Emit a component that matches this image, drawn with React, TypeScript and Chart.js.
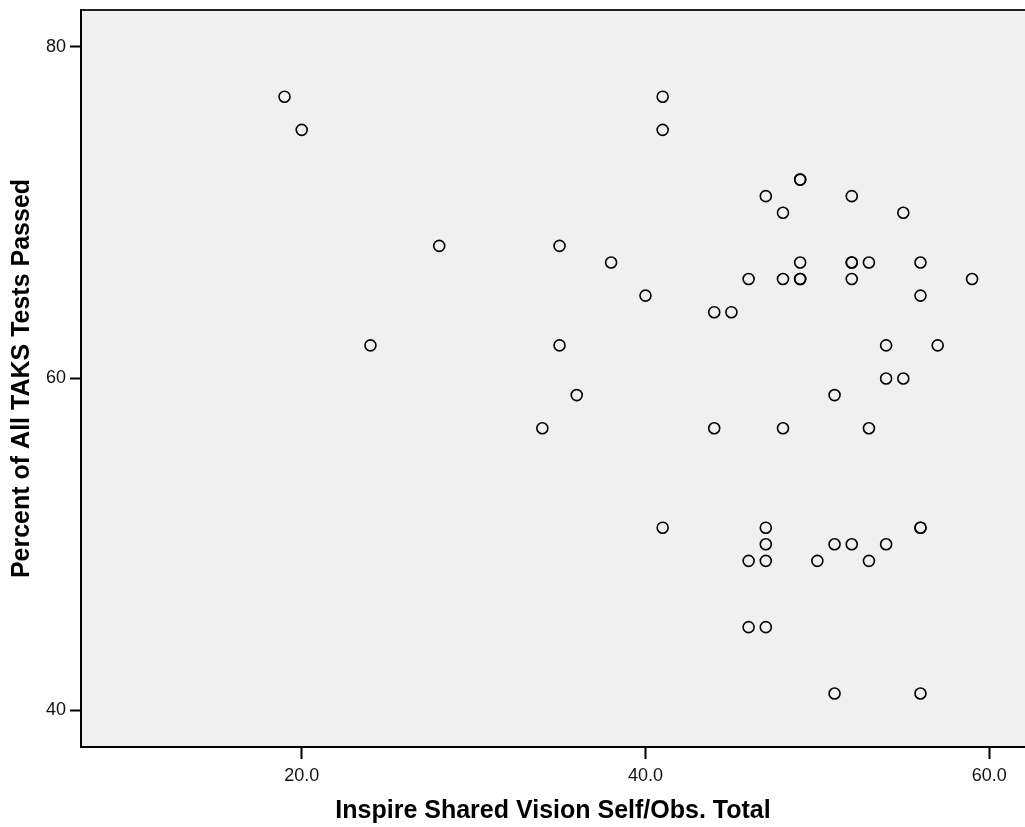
import React, { useEffect, useRef } from "react";
import { Chart, registerables } from "chart.js";

Chart.register(...registerables);

const xValues: number[] = [
  19, 20, 24, 28, 34, 35, 35, 36, 38, 40,
  41, 41, 41, 44, 45, 44, 46, 46, 46, 47,
  47, 47, 47, 47, 48, 48, 48, 49, 49, 49,
  49, 49, 50, 51, 51, 51, 52, 52, 52, 52,
  52, 53, 53, 53, 54, 54, 54, 55, 55, 56,
  56, 56, 56, 56, 57, 59,
];
const yValues: number[] = [
  77, 75, 62, 68, 57, 68, 62, 59, 67, 65,
  77, 75, 51, 64, 64, 57, 66, 49, 45, 71,
  51, 50, 49, 45, 70, 66, 57, 72, 72, 67,
  66, 66, 49, 59, 50, 41, 71, 67, 67, 66,
  50, 67, 57, 49, 62, 60, 50, 70, 60, 67,
  65, 51, 51, 41, 62, 66,
];
const xTickValues: number[] = [20, 40, 60];
const yTickValues: number[] = [40, 60, 80];
const xTitle = "Inspire Shared Vision Self/Obs. Total";
const yTitle = "Percent of All TAKS Tests Passed";

const FONT = '"Liberation Sans", Arial, Helvetica, sans-serif';

const framePlugin = {
  id: "spssFrame",
  beforeDraw(chart: any) {
    const { ctx, chartArea } = chart;
    ctx.save();
    ctx.fillStyle = "#F0F0F0";
    ctx.fillRect(chartArea.left, chartArea.top, chartArea.right - chartArea.left, chartArea.bottom - chartArea.top);
    ctx.restore();
  },
  afterDraw(chart: any) {
    const { ctx, chartArea } = chart;
    ctx.save();
    ctx.strokeStyle = "#222";
    ctx.lineWidth = 2;
    ctx.beginPath();
    ctx.moveTo(chartArea.left, chartArea.top);
    ctx.lineTo(chartArea.right, chartArea.top);
    ctx.stroke();
    ctx.restore();
  },
};

export default function App() {
  const canvasRef = useRef<HTMLCanvasElement | null>(null);

  useEffect(() => {
    if (!canvasRef.current) return;
    const points = xValues.map((x, i) => ({ x, y: yValues[i] }));
    const chart = new Chart(canvasRef.current, {
      type: "scatter",
      data: {
        datasets: [
          {
            data: points,
            pointRadius: 5.5,
            pointBorderWidth: 1.6,
            pointBorderColor: "#000",
            pointBackgroundColor: "rgba(0,0,0,0)",
            pointHoverRadius: 5.5,
          },
        ],
      },
      options: {
        responsive: false,
        animation: false,
        events: [],
        layout: { autoPadding: false, padding: { top: 10, left: 0, right: 0, bottom: 0 } },
        plugins: {
          legend: { display: false },
          tooltip: { enabled: false },
          title: { display: false },
        },
        scales: {
          x: {
            type: "linear",
            min: 7.16,
            max: 62.08,
            afterBuildTicks: (scale: any) => {
              scale.ticks = xTickValues.map((v) => ({ value: v }));
            },
            afterFit: (scale: any) => {
              scale.height = 80;
              scale.paddingLeft = 0;
              scale.paddingRight = 0;
            },
            ticks: {
              autoSkip: false,
              maxRotation: 0,
              padding: 6,
              color: "#111",
              font: { family: FONT, size: 18 },
              callback: (v: any) => Number(v).toFixed(1),
            },
            grid: {
              display: true,
              drawOnChartArea: false,
              drawTicks: true,
              tickLength: 12,
              tickWidth: 2,
              tickColor: "#000",
            },
            border: { display: true, color: "#000", width: 2 },
            title: {
              display: true,
              text: xTitle,
              color: "#000",
              font: { family: FONT, size: 25, weight: "bold" },
              padding: { top: 0, bottom: 1 },
            },
          },
          y: {
            type: "linear",
            min: 37.77,
            max: 82.23,
            afterBuildTicks: (scale: any) => {
              scale.ticks = yTickValues.map((v) => ({ value: v }));
            },
            afterFit: (scale: any) => {
              scale.width = 81;
              scale.paddingTop = 0;
              scale.paddingBottom = 0;
            },
            ticks: {
              autoSkip: false,
              padding: 4,
              color: "#111",
              font: { family: FONT, size: 18 },
              callback: (v: any) => String(v),
            },
            grid: {
              display: true,
              drawOnChartArea: false,
              drawTicks: true,
              tickLength: 11,
              tickWidth: 2,
              tickColor: "#000",
            },
            border: { display: true, color: "#000", width: 2 },
            title: {
              display: true,
              text: yTitle,
              color: "#000",
              font: { family: FONT, size: 25, weight: "bold" },
              padding: { top: 7, bottom: 0 },
            },
          },
        },
      },
      plugins: [framePlugin],
    } as any);
    return () => chart.destroy();
  }, []);

  return (
    <div style={{ position: "absolute", left: 0, top: 0, width: 1025, height: 827, background: "#fff" }}>
      <canvas ref={canvasRef} width={1025} height={827} style={{ display: "block" }} />
    </div>
  );
}
